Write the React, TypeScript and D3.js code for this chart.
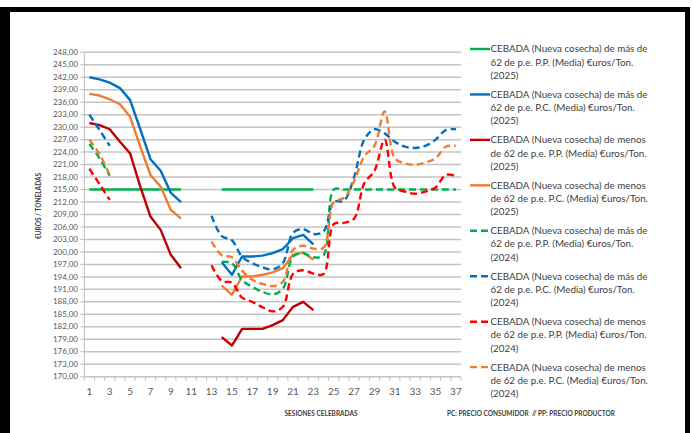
import React from "react";
import * as d3 from "d3";

const categories: number[] = d3.range(1, 38);
const yTicks: number[] = d3.range(170, 249, 3);
const xLabelCats: number[] = d3.range(1, 38, 2);

const N = null;
// 2025 (solid)
const masPP2025: (number | null)[] = [215, 215, 215, 215, 215, 215, 215, 215, 215, 215, N, N, N, 215, 215, 215, 215, 215, 215, 215, 215, 215, 215, N, N, N, N, N, N, N, N, N, N, N, N, N, N];
const masPC2025: (number | null)[] = [242, 241.5, 240.7, 239.4, 236.5, 229.5, 222.3, 219.5, 214.2, 212, N, N, N, 197.5, 194.5, 198.9, 198.9, 199.1, 199.7, 200.7, 203.3, 204.1, 201.8, N, N, N, N, N, N, N, N, N, N, N, N, N, N];
const menosPP2025: (number | null)[] = [231, 230.5, 229.5, 226.5, 223.7, 215.7, 208.5, 205.3, 199.3, 196.1, N, N, N, 179.5, 177.5, 181.5, 181.5, 181.5, 182.4, 183.6, 186.8, 188, 186, N, N, N, N, N, N, N, N, N, N, N, N, N, N];
const menosPC2025: (number | null)[] = [238, 237.6, 236.7, 235.5, 232.5, 225.3, 218.5, 215.7, 210.1, 208, N, N, N, 191.9, 189.7, 194.1, 194.1, 194.5, 195.1, 196.1, 199.3, 199.9, 198.1, N, N, N, N, N, N, N, N, N, N, N, N, N, N];
// 2024 (dashed)
const masPP2024: (number | null)[] = [226, 222.5, 218.3, N, N, N, N, N, N, N, N, N, N, 197.6, 197.3, 193.2, 191.6, 190.4, 189.8, 191.1, 198.9, 199.7, 198.7, 199.2, 215, 215, 215, 215, 215, 215, 215, 215, 215, 215, 215, 215, 215];
const masPC2024: (number | null)[] = [233, 229.3, 225.5, N, N, N, N, N, N, N, N, N, 208.7, 203.8, 202.8, 198.8, 197.3, 196.3, 195.8, 197.3, 204.6, 205.5, 204.3, 204.9, 212, 212.3, 218, 227, 229.5, 228.5, 226.5, 225.3, 225, 225.5, 227, 229.3, 229.5];
const menosPP2024: (number | null)[] = [220, 216.3, 212.5, N, N, N, N, N, N, N, N, N, 196.8, 193, 192.6, 189, 188, 186.7, 185.7, 186.8, 194.7, 195.6, 194.8, 194.7, 206.7, 207, 208, 216.5, 219.5, 227, 215.5, 214.5, 214, 214.5, 215.5, 218.5, 218.3];
const menosPC2024: (number | null)[] = [227, 223.5, 218.5, N, N, N, N, N, N, N, N, N, 202.5, 199.2, 198.7, 195.5, 193.3, 192.3, 191.8, 192.8, 200.5, 201.5, 200.8, 201, 212, 213, 217, 223, 225.5, 233.8, 222.5, 221.3, 221, 221.5, 222.5, 225.3, 225.5];

const legendLines: string[][] = [
  ["CEBADA (Nueva cosecha) de más de", "62 de p.e. P.P. (Media) €uros/Ton.", "(2025)"],
  ["CEBADA (Nueva cosecha) de más de", "62 de p.e. P.C. (Media) €uros/Ton.", "(2025)"],
  ["CEBADA (Nueva cosecha) de menos", "de 62 de p.e. P.P. (Media) €uros/Ton.", "(2025)"],
  ["CEBADA (Nueva cosecha) de menos", "de 62 de p.e. P.C. (Media) €uros/Ton.", "(2025)"],
  ["CEBADA (Nueva cosecha) de más de", "62 de p.e. P.P. (Media) €uros/Ton.", "(2024)"],
  ["CEBADA (Nueva cosecha) de más de", "62 de p.e. P.C. (Media) €uros/Ton.", "(2024)"],
  ["CEBADA (Nueva cosecha) de menos", "de 62 de p.e. P.P. (Media) €uros/Ton.", "(2024)"],
  ["CEBADA (Nueva cosecha) de menos", "de 62 de p.e. P.C. (Media) €uros/Ton.", "(2024)"],
];

const seriesList = [
  { values: masPP2025, color: "#00B050", dashed: false },
  { values: masPC2025, color: "#0070C0", dashed: false },
  { values: menosPP2025, color: "#C00000", dashed: false },
  { values: menosPC2025, color: "#ED7D31", dashed: false },
  { values: masPP2024, color: "#00B050", dashed: true },
  { values: masPC2024, color: "#0070C0", dashed: true },
  { values: menosPP2024, color: "#FF0000", dashed: true },
  { values: menosPC2024, color: "#ED7D31", dashed: true },
];

const W = 692;
const H = 433;
const plotL = 84.3;
const plotR = 461;
const plotT = 52.3;
const plotB = 376.7;
const FONT = "Lato, 'Liberation Sans', Arial, sans-serif";

export default function App() {
  const x = d3.scaleBand<number>().domain(categories).range([plotL, plotR]).paddingInner(0).paddingOuter(0);
  const y = d3.scaleLinear().domain([170, 248]).range([plotB, plotT]);
  const cx = (c: number) => (x(c) as number) + x.bandwidth() / 2;

  const mkLine = (dashed: boolean) =>
    d3
      .line<number | null>()
      .defined((d) => d !== null)
      .x((_, i) => cx(categories[i]))
      .y((d) => y(d as number))
      .curve(dashed ? d3.curveCatmullRom.alpha(0.5) : d3.curveLinear);

  const legendX = 470;
  const legendTop = 49;
  const legendStep = 45.45;
  const lineH = 13.2;

  return (
    <svg
      width={W}
      height={H}
      style={{ position: "absolute", left: 0, top: 0, background: "#fff" }}
      fontFamily={FONT}
    >
      <rect x={0} y={0} width={W} height={H} fill="#fff" />
      {/* frame */}
      <rect x={0} y={7} width={690} height={5} fill="#000" />
      <rect x={0} y={7} width={10} height={H - 7} fill="#000" />
      <rect x={685} y={7} width={5} height={H - 7} fill="#000" />

      {/* gridlines */}
      {yTicks.map((t) => (
        <line key={"g" + t} x1={plotL} x2={plotR} y1={y(t)} y2={y(t)} stroke="#c4c4c4" strokeWidth={1.5} />
      ))}
      {/* y axis */}
      <line x1={plotL} x2={plotL} y1={plotT} y2={plotB} stroke="#bfbfbf" strokeWidth={1} />
      {yTicks.map((t) => (
        <line key={"yt" + t} x1={plotL - 4} x2={plotL} y1={y(t)} y2={y(t)} stroke="#bfbfbf" strokeWidth={1} />
      ))}
      {yTicks.map((t) => (
        <text key={"yl" + t} x={78} y={y(t)} dy="0.33em" textAnchor="end" fontSize={8} fill="#595959">
          {d3.format(".2f")(t).replace(".", ",")}
        </text>
      ))}
      {/* x ticks */}
      {categories.concat([38]).map((c, i) => {
        const xx = i < categories.length ? (x(c) as number) : plotR;
        return <line key={"xt" + c} x1={xx} x2={xx} y1={plotB} y2={plotB + 4} stroke="#bfbfbf" strokeWidth={1} />;
      })}
      {xLabelCats.map((c) => (
        <text key={"xl" + c} x={cx(c)} y={395} textAnchor="middle" fontSize={10} fill="#595959">
          {c}
        </text>
      ))}

      {/* series */}
      {seriesList.map((s, i) => (
        <path
          key={"s" + i}
          d={mkLine(s.dashed)(s.values) || ""}
          fill="none"
          stroke={s.color}
          strokeWidth={2.4}
          strokeDasharray={s.dashed ? "7,4" : undefined}
          strokeLinejoin="round"
        />
      ))}

      {/* titles */}
      <text x={321} y={416} textAnchor="middle" fontSize={6.5} fontWeight="bold" fill="#404040">
        SESIONES CELEBRADAS
      </text>
      <text x={447} y={416} textAnchor="start" fontSize={6.5} fontWeight="bold" fill="#404040">
        {"PC: PRECIO CONSUMIDOR \u00a0// PP: PRECIO PRODUCTOR"}
      </text>
      <text
        transform={`translate(41,206) rotate(-90)`}
        textAnchor="middle"
        fontSize={6.5}
        fontWeight="bold"
        fill="#404040"
      >
        €UROS / TONELADAS
      </text>

      {/* legend */}
      {seriesList.map((s, i) => {
        const ly = legendTop + i * legendStep;
        return (
          <g key={"lg" + i}>
            <line
              x1={legendX}
              x2={legendX + 20}
              y1={ly}
              y2={ly}
              stroke={s.color}
              strokeWidth={2.4}
              strokeDasharray={s.dashed ? "7,4" : undefined}
            />
            {legendLines[i].map((t, j) => (
              <text key={j} x={legendX + 20.5} y={ly + j * lineH} dy="0.35em" fontSize={9.8} fill="#404040">
                {t}
              </text>
            ))}
          </g>
        );
      })}
    </svg>
  );
}
